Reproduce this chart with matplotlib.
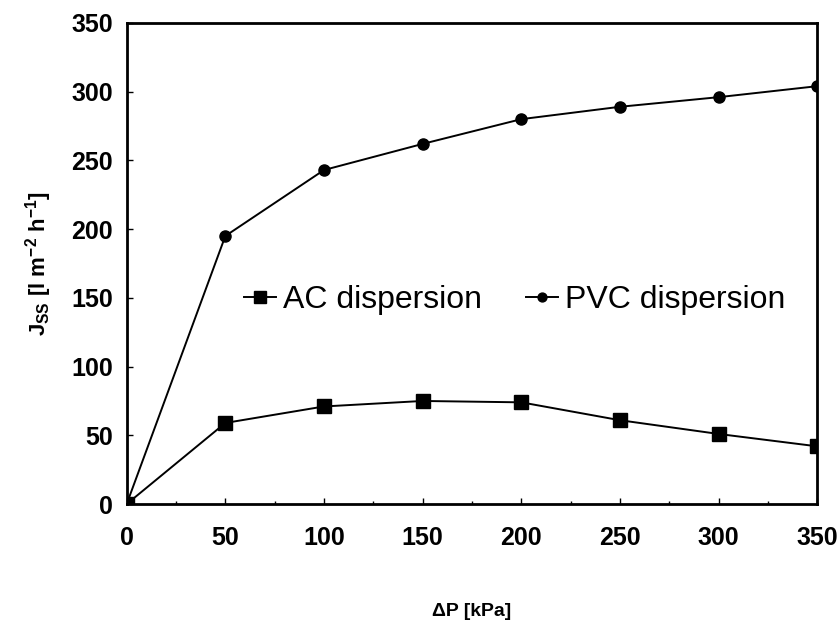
import matplotlib
matplotlib.use("Agg")
import matplotlib.pyplot as plt
from matplotlib.ticker import MultipleLocator

plt.rcParams['font.family'] = ['Liberation Sans', 'DejaVu Sans']

dp = [0, 50, 100, 150, 200, 250, 300, 350]
ac = [0, 59, 71, 75, 74, 61, 51, 42]
pvc = [0, 195, 243, 262, 280, 289, 296, 304]

fig = plt.figure(figsize=(8.39, 6.2), dpi=100)
ax = fig.add_axes([0.151, 0.187, 0.823, 0.776])

ax.plot(dp, ac, color='black', lw=1.4, marker='s', markersize=10, label='AC dispersion')
ax.plot(dp, pvc, color='black', lw=1.4, marker='o', markersize=8, label='PVC dispersion')

ax.set_xlim(0, 350)
ax.set_ylim(0, 350)
ax.xaxis.set_major_locator(MultipleLocator(50))
ax.yaxis.set_major_locator(MultipleLocator(50))
ax.xaxis.set_minor_locator(MultipleLocator(25))
ax.tick_params(which='both', direction='in', length=4, width=1)
ax.tick_params(axis='x', pad=16)
ax.tick_params(axis='y', pad=10)
ax.tick_params(which='minor', length=2)
for lab in ax.get_xticklabels() + ax.get_yticklabels():
    lab.set_fontsize(18)
    lab.set_fontweight('bold')
for s in ax.spines.values():
    s.set_linewidth(2)

ax.set_xlabel('\u0394P [kPa]', fontsize=14, fontweight='bold', labelpad=38)
ax.set_ylabel('J$_{\\mathregular{SS}}$ [l m$^{\\mathregular{-2}}$ h$^{\\mathregular{-1}}$]',
              fontsize=16, fontweight='bold', labelpad=12)

leg = ax.legend(loc='center', bbox_to_anchor=(0.562, 0.424), ncol=2, frameon=False,
                fontsize=23, handlelength=1.0, handletextpad=0.2, columnspacing=1.4,
                markerscale=0.8)

fig.savefig('out.png', dpi=100)
